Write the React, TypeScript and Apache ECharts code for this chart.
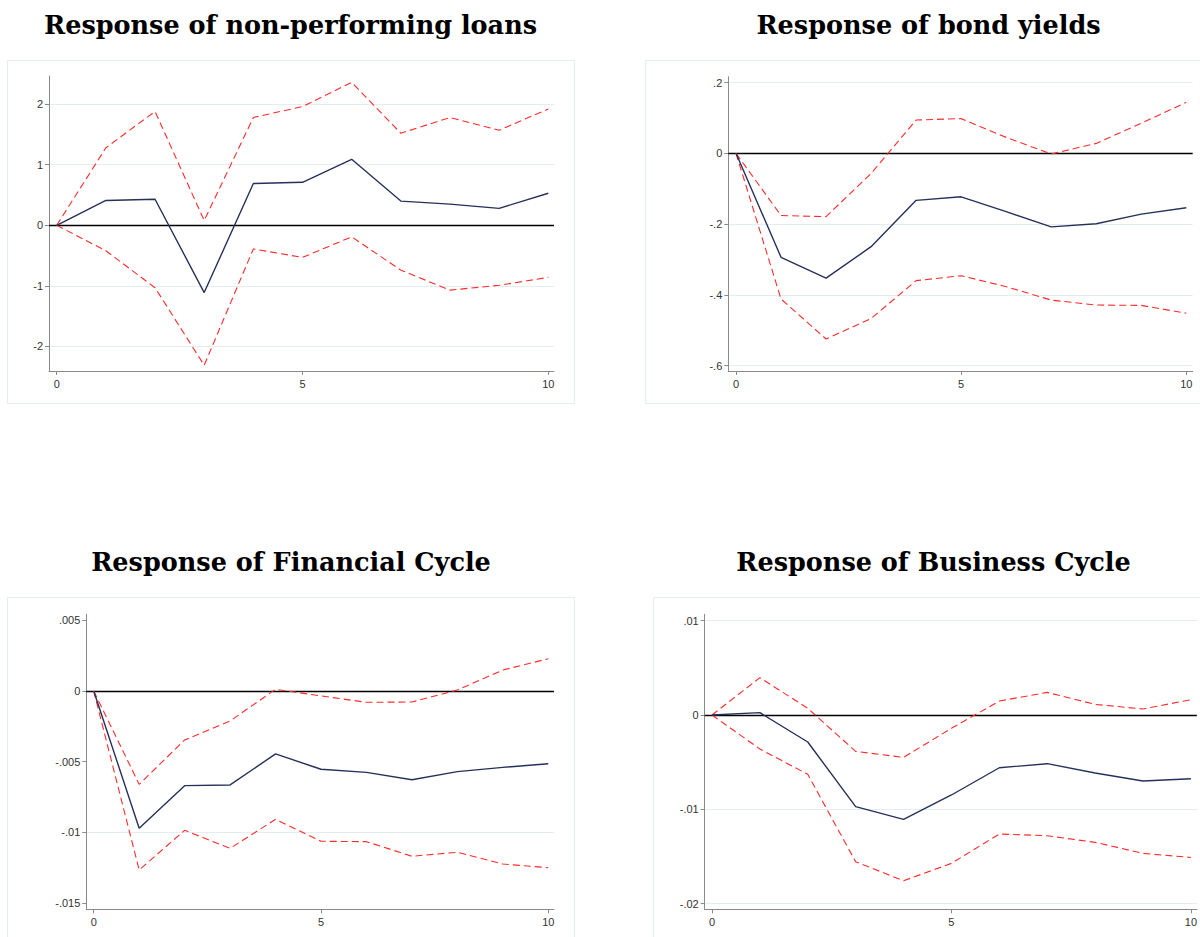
import React, { useEffect, useRef } from "react";
import * as echarts from "echarts";

const horizons = [0, 1, 2, 3, 4, 5, 6, 7, 8, 9, 10];
const xTickValues = [0, 5, 10];

const titles = [
  "Response of non-performing loans",
  "Response of bond yields",
  "Response of Financial Cycle",
  "Response of Business Cycle",
];

// Non-performing loans
const nplIrf = [0, 0.41, 0.43, -1.11, 0.69, 0.71, 1.09, 0.4, 0.35, 0.28, 0.53];
const nplUpper = [0, 1.28, 1.88, 0.08, 1.78, 1.96, 2.36, 1.52, 1.78, 1.57, 1.92];
const nplLower = [0, -0.42, -1.03, -2.31, -0.39, -0.53, -0.19, -0.74, -1.07, -0.99, -0.86];
const nplTicks = [-2, -1, 0, 1, 2];
const nplTickLabels = ["-2", "-1", "0", "1", "2"];

// Bond yields
const bondIrf = [0, -0.294, -0.353, -0.264, -0.133, -0.123, -0.165, -0.208, -0.199, -0.172, -0.154];
const bondUpper = [0, -0.176, -0.179, -0.057, 0.094, 0.098, 0.045, -0.002, 0.028, 0.085, 0.144];
const bondLower = [0, -0.412, -0.525, -0.467, -0.36, -0.346, -0.377, -0.415, -0.429, -0.43, -0.452];
const bondTicks = [-0.6, -0.4, -0.2, 0, 0.2];
const bondTickLabels = ["-.6", "-.4", "-.2", "0", ".2"];

// Financial cycle
const finIrf = [0, -0.0097, -0.00669, -0.00664, -0.00445, -0.00553, -0.00575, -0.00627, -0.0057, -0.0054, -0.00514];
const finUpper = [0, -0.0066, -0.00346, -0.00212, 0.00012, -0.00035, -0.0008, -0.00078, 0.00007, 0.00148, 0.00228];
const finLower = [0, -0.01265, -0.00985, -0.01112, -0.00907, -0.01062, -0.01065, -0.01168, -0.0114, -0.01223, -0.01249];
const finTicks = [-0.015, -0.01, -0.005, 0, 0.005];
const finTickLabels = ["-.015", "-.01", "-.005", "0", ".005"];

// Business cycle
const busIrf = [0, 0.00025, -0.00286, -0.00972, -0.01106, -0.00848, -0.00559, -0.00516, -0.00615, -0.007, -0.00675];
const busUpper = [0, 0.00396, 0.00071, -0.00385, -0.00449, -0.00141, 0.00148, 0.0024, 0.00113, 0.00064, 0.00162];
const busLower = [0, -0.0036, -0.00629, -0.01556, -0.01757, -0.01573, -0.01262, -0.0128, -0.0135, -0.01467, -0.0151];
const busTicks = [-0.02, -0.01, 0, 0.01];
const busTickLabels = ["-.02", "-.01", "0", ".01"];

const panels = [
  {
    irf: nplIrf, upper: nplUpper, lower: nplLower, ticks: nplTicks, labels: nplTickLabels,
    grid: { left: 49, top: 76, width: 505, height: 295 },
    xMin: -0.157, xMax: 10.116, yMin: -2.405, yMax: 2.465,
    box: { x: 7.5, y: 60.5, width: 567, height: 343 },
    titleX: 290.5, titleY: 25,
  },
  {
    irf: bondIrf, upper: bondUpper, lower: bondLower, ticks: bondTicks, labels: bondTickLabels,
    grid: { left: 728.3, top: 76.7, width: 464.4, height: 294.3 },
    xMin: -0.171, xMax: 10.142, yMin: -0.6154, yMax: 0.2165,
    box: { x: 645.5, y: 60.5, width: 570, height: 343 },
    titleX: 928.5, titleY: 25,
  },
  {
    irf: finIrf, upper: finUpper, lower: finLower, ticks: finTicks, labels: finTickLabels,
    grid: { left: 86.3, top: 614.3, width: 467.7, height: 295 },
    xMin: -0.163, xMax: 10.125, yMin: -0.01543, yMax: 0.00542,
    box: { x: 7.5, y: 597.5, width: 567, height: 360 },
    titleX: 291, titleY: 562,
  },
  {
    irf: busIrf, upper: busUpper, lower: busLower, ticks: busTicks, labels: busTickLabels,
    grid: { left: 704.7, top: 614.3, width: 494.3, height: 295 },
    xMin: -0.152, xMax: 10.125, yMin: -0.0206, yMax: 0.01068,
    box: { x: 653.5, y: 597.5, width: 570, height: 360 },
    titleX: 933.5, titleY: 562,
  },
];

const NAVY = "#26315a";
const RED = "#ff2a2a";
const GRIDC = "#e4edf0";
const AXISC = "#8a8a8a";
const TICKFONT = "'Liberation Sans', Arial, sans-serif";

export default function App() {
  const ref = useRef<HTMLDivElement>(null);
  useEffect(() => {
    document.body.style.margin = "0";
    if (!ref.current) return;
    const chart = echarts.init(ref.current, undefined, { renderer: "svg" });

    const grids: any[] = [];
    const xAxes: any[] = [];
    const yAxes: any[] = [];
    const series: any[] = [];
    const graphics: any[] = [];

    panels.forEach((p, i) => {
      grids.push({ ...p.grid, containLabel: false });
      xAxes.push({
        type: "value",
        gridIndex: i,
        min: p.xMin,
        max: p.xMax,
        axisLine: { show: true, onZero: false, lineStyle: { color: AXISC, width: 1 } },
        axisTick: { show: true, customValues: xTickValues, length: 4, lineStyle: { color: AXISC } },
        axisLabel: {
          show: true,
          customValues: xTickValues,
          margin: 7,
          color: "#333",
          fontSize: 11,
          fontFamily: TICKFONT,
          formatter: (v: number) => String(Math.round(v)),
        },
        splitLine: { show: false },
      });
      yAxes.push({
        type: "value",
        gridIndex: i,
        min: p.yMin,
        max: p.yMax,
        axisLine: { show: true, onZero: false, lineStyle: { color: AXISC, width: 1 } },
        axisTick: { show: true, customValues: p.ticks, length: 4, lineStyle: { color: AXISC } },
        axisLabel: {
          show: true,
          customValues: p.ticks,
          margin: 6,
          color: "#333",
          fontSize: 11,
          fontFamily: TICKFONT,
          formatter: (v: number) => {
            let best = p.labels[0];
            let bd = Infinity;
            p.ticks.forEach((t, k) => {
              const d = Math.abs(t - v);
              if (d < bd) { bd = d; best = p.labels[k]; }
            });
            return best;
          },
        },
        splitLine: { show: false },
      });

      // grid lines
      series.push({
        type: "line",
        xAxisIndex: i,
        yAxisIndex: i,
        data: horizons.map((h, k) => [h, p.irf[k]]),
        showSymbol: false,
        symbol: "none",
        silent: true,
        z: 0,
        lineStyle: { opacity: 0 },
        markLine: {
          silent: true,
          z: 0,
          symbol: "none",
          label: { show: false },
          lineStyle: { color: GRIDC, width: 1, type: "solid" },
          data: p.ticks.filter((t) => t !== 0).map((t) => ({ yAxis: t })),
        },
      });
      // zero line
      series.push({
        type: "line",
        xAxisIndex: i,
        yAxisIndex: i,
        data: horizons.map((h, k) => [h, p.irf[k]]),
        showSymbol: false,
        symbol: "none",
        silent: true,
        z: 1,
        lineStyle: { opacity: 0 },
        markLine: {
          silent: true,
          z: 1,
          symbol: "none",
          label: { show: false },
          lineStyle: { color: "#000", width: 1.4, type: "solid" },
          data: [{ yAxis: 0 }],
        },
      });
      const mk = (vals: number[], color: string, dashed: boolean, z: number) => ({
        type: "line",
        xAxisIndex: i,
        yAxisIndex: i,
        data: horizons.map((h, k) => [h, vals[k]]),
        showSymbol: false,
        symbol: "none",
        z,
        lineStyle: dashed
          ? { color, width: 1.1, type: [7, 4] }
          : { color, width: 1.4, type: "solid" },
      });
      series.push(mk(p.upper, RED, true, 3));
      series.push(mk(p.lower, RED, true, 3));
      series.push(mk(p.irf, NAVY, false, 4));

      graphics.push({
        type: "rect",
        shape: { ...p.box },
        style: { fill: "none", stroke: GRIDC, lineWidth: 1 },
        silent: true,
        z: -1,
      });
      graphics.push({
        type: "text",
        x: p.titleX,
        y: p.titleY,
        style: {
          text: titles[i],
          fill: "#000",
          font: "bold 25.5px 'DejaVu Serif', serif",
          align: "center",
          verticalAlign: "middle",
        },
      });
    });

    chart.setOption({
      animation: false,
      backgroundColor: "#fff",
      grid: grids,
      xAxis: xAxes,
      yAxis: yAxes,
      series,
      graphic: graphics,
    });
    return () => chart.dispose();
  }, []);
  return <div ref={ref} style={{ width: 1200, height: 937 }} />;
}
